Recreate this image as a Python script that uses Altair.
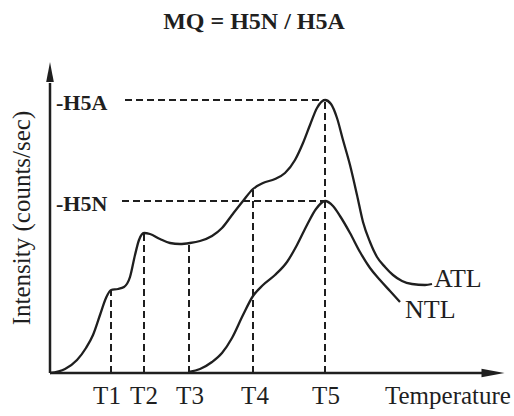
import altair as alt
import pandas as pd

# ---- data (temperature / intensity in arbitrary units) ----
atl_t = [0, 15, 27, 36, 43, 50, 56, 61, 68, 74, 80, 85, 89, 94, 100, 110, 120, 130, 140, 150,
         162, 172, 182, 193, 203, 213, 225, 235, 245, 253, 260, 267, 275, 281, 287, 293, 300,
         307, 313, 320, 327, 335, 343, 352, 362, 375, 382]
atl_i = [0, 4, 13, 25, 38, 58, 75, 83, 84, 86, 96, 118, 133, 140, 139, 134, 130, 129, 130, 132,
         137, 145, 158, 172, 184, 190, 194, 200, 213, 230, 248, 265, 273, 269, 255, 233, 208,
         178, 151, 131, 116, 106, 98, 92, 89, 88, 89]

ntl_t = [139, 150, 162, 172, 182, 193, 203, 213, 225, 237, 247, 257, 266, 275, 283, 290, 300,
         310, 320, 330, 340, 350]
ntl_i = [1, 4, 11, 20, 35, 58, 77, 88, 98, 111, 128, 148, 164, 172, 167, 157, 140, 121, 105,
         93, 82, 71]

t_names = ["T1", "T2", "T3", "T4", "T5"]
t_pos = [61, 94, 139, 203, 275]
t_top = [83, 140, 130, 184, 273]
t_label_pos = [57, 94, 140, 205, 276]

h_names = ["-H5A", "-H5N"]
h_vals = [273, 172]
h_label_vals = [270, 169]
h_start = [75, 72]
h_end = [275, 275]

INK = "#1f1f1f"
FONT = "Liberation Serif"

xs = alt.Scale(domain=[0, 455], nice=False, zero=False)
ys = alt.Scale(domain=[0, 311], nice=False, zero=False)


def X(f="t"):
    return alt.X(f"{f}:Q", scale=xs, axis=None)


def Y(f="i"):
    return alt.Y(f"{f}:Q", scale=ys, axis=None)


atl = pd.DataFrame({"t": atl_t, "i": atl_i, "o": range(len(atl_t))})
ntl = pd.DataFrame({"t": ntl_t, "i": ntl_i, "o": range(len(ntl_t))})

line_atl = alt.Chart(atl).mark_line(color=INK, strokeWidth=2.3, interpolate="monotone").encode(
    x=X(), y=Y(), order="o:Q")
line_ntl = alt.Chart(ntl).mark_line(color=INK, strokeWidth=2.3, interpolate="monotone").encode(
    x=X(), y=Y(), order="o:Q")

vdf = pd.DataFrame({"t": t_pos, "top": t_top, "base": [0] * len(t_pos)})
vdash = alt.Chart(vdf).mark_rule(color=INK, strokeWidth=2, strokeDash=[7, 4]).encode(
    x=X(), y=Y("base"), y2="top:Q")

hdf = pd.DataFrame({"t": h_start, "t2": h_end, "i": h_vals})
hdash = alt.Chart(hdf).mark_rule(color=INK, strokeWidth=2, strokeDash=[7, 4]).encode(
    x=X(), x2="t2:Q", y=Y())

# axes
axdf = pd.DataFrame({"t": [0, 0], "t2": [435, 0], "i": [0, 0], "i2": [0, 290]})
axes = alt.Chart(axdf).mark_rule(color=INK, strokeWidth=2.5).encode(
    x=X(), x2="t2:Q", y=Y(), y2="i2:Q")

up = alt.Chart(pd.DataFrame({"t": [0], "i": [301]})).mark_point(
    shape="M0,-1L0.38,1L-0.38,1Z", size=400, filled=True, color=INK, opacity=1, strokeWidth=0
).encode(x=X(), y=Y())
right = alt.Chart(pd.DataFrame({"t": [443], "i": [0]})).mark_point(
    shape="M1,0L-1,-0.36L-1,0.36Z", size=529, filled=True, color=INK, opacity=1, strokeWidth=0
).encode(x=X(), y=Y())

# texts
tl = alt.Chart(pd.DataFrame({"t": t_label_pos, "i": [-31] * 5, "s": t_names})).mark_text(
    font=FONT, fontSize=25, color=INK, align="center", baseline="alphabetic"
).encode(x=X(), y=Y(), text="s:N")

temp = alt.Chart(pd.DataFrame({"t": [335], "i": [-31], "s": ["Temperature"]})).mark_text(
    font=FONT, fontSize=25, color=INK, align="left", baseline="alphabetic"
).encode(x=X(), y=Y(), text="s:N")

hl = alt.Chart(pd.DataFrame({"t": [6, 6], "i": h_label_vals, "s": h_names})).mark_text(
    font=FONT, fontSize=22, fontWeight="bold", color=INK, align="left", baseline="middle"
).encode(x=X(), y=Y(), text="s:N")

curve_lbl = alt.Chart(pd.DataFrame({"t": [384, 355], "i": [86, 55], "s": ["ATL", "NTL"]})).mark_text(
    font=FONT, fontSize=26, color=INK, align="left", baseline="alphabetic"
).encode(x=X(), y=Y(), text="s:N")

ytitle = alt.Chart(pd.DataFrame({"t": [-28], "i": [155], "s": ["Intensity (counts/sec)"]})).mark_text(
    font=FONT, fontSize=25, color=INK, align="center", baseline="middle", angle=270
).encode(x=X(), y=Y(), text="s:N")

title = alt.Chart(pd.DataFrame({"t": [204], "i": [344], "s": ["MQ = H5N / H5A"]})).mark_text(
    font=FONT, fontSize=24, fontWeight="bold", color=INK, align="center", baseline="alphabetic"
).encode(x=X(), y=Y(), text="s:N")

chart = alt.layer(
    vdash, hdash, line_atl, line_ntl, axes, up, right, tl, temp, hl, curve_lbl, ytitle, title
).properties(
    width=455, height=311,
    padding={"left": 50, "top": 62, "right": 9, "bottom": 43},
    autosize=alt.AutoSizeParams(type="none"),
    background="white",
).configure_view(stroke=None)

chart.save("out.html", embed_options={"renderer": "svg", "actions": False})
